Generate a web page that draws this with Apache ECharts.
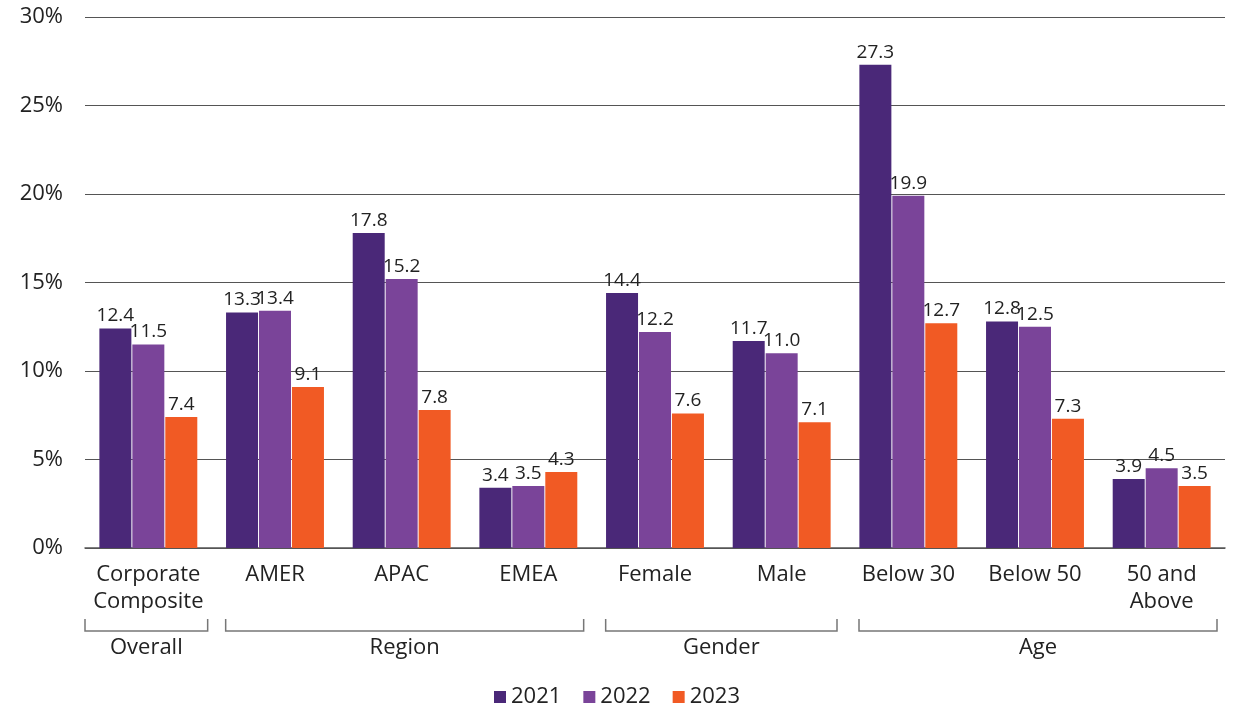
<!DOCTYPE html>
<html>
<head>
<meta charset="utf-8">
<title>Turnover rate by segment</title>
<script src="https://cdn.jsdelivr.net/npm/echarts@6/dist/echarts.min.js"></script>
<style>
  html, body { margin: 0; padding: 0; background: #ffffff; }
  #chart { width: 1234px; height: 708px; }
</style>
</head>
<body>
<div id="chart"></div>
<script>
// Segments along the x axis
const categories = ['Corporate\nComposite', 'AMER', 'APAC', 'EMEA', 'Female', 'Male', 'Below 30', 'Below 50', '50 and\nAbove'];

// Rates (%) per year
const years = ['2021', '2022', '2023'];
const values2021 = [12.4, 13.3, 17.8, 3.4, 14.4, 11.7, 27.3, 12.8, 3.9];
const values2022 = [11.5, 13.4, 15.2, 3.5, 12.2, 11.0, 19.9, 12.5, 4.5];
const values2023 = [7.4, 9.1, 7.8, 4.3, 7.6, 7.1, 12.7, 7.3, 3.5];

// Group brackets beneath the category labels (first and last category index)
const groupNames = ['Overall', 'Region', 'Gender', 'Age'];
const groupFirst = [0, 1, 4, 6];
const groupLast = [0, 3, 5, 8];

// Y axis ticks
const yMin = 0, yMax = 30, yStep = 5;

const colors = ['#4a2878', '#7a4499', '#f15a24'];
const FONT = '"Open Sans", "Noto Sans", sans-serif';
const TEXT = '#222222';

const chart = echarts.init(document.getElementById('chart'), null, { renderer: 'canvas' });

function barSeries(name, data, color) {
  return {
    name: name,
    type: 'bar',
    data: data,
    barWidth: 32,
    barGap: '3%',
    itemStyle: { color: color },
    label: {
      show: true,
      position: 'top',
      distance: 3,
      color: TEXT,
      fontFamily: FONT,
      fontSize: 19,
      formatter: p => p.value.toFixed(1)
    },
    emphasis: { disabled: true }
  };
}

const option = {
  backgroundColor: '#ffffff',
  animation: false,
  textStyle: { fontFamily: FONT },
  grid: { left: 85, right: 9, top: 17, bottom: 160, containLabel: false },
  legend: {
    bottom: -5,
    left: 'center',
    itemWidth: 12,
    itemHeight: 12,
    itemGap: 22,
    icon: 'rect',
    textStyle: { color: TEXT, fontFamily: FONT, fontSize: 22, padding: [0, 0, 0, 0] },
    data: years
  },
  xAxis: {
    type: 'category',
    data: categories,
    axisLine: { show: true, lineStyle: { color: '#555555', width: 1.5 } },
    axisTick: { show: false },
    axisLabel: {
      color: TEXT,
      fontFamily: FONT,
      fontSize: 22,
      lineHeight: 27,
      margin: 13,
      interval: 0
    }
  },
  yAxis: {
    type: 'value',
    min: yMin,
    max: yMax,
    interval: yStep,
    axisLine: { show: false },
    axisTick: { show: false },
    splitLine: { lineStyle: { color: '#555555', width: 1 } },
    axisLabel: {
      color: TEXT,
      fontFamily: FONT,
      fontSize: 22,
      margin: 22,
      formatter: v => v + '%'
    }
  },
  series: [
    barSeries(years[0], values2021, colors[0]),
    barSeries(years[1], values2022, colors[1]),
    barSeries(years[2], values2023, colors[2])
  ]
};

chart.setOption(option);

// Brackets and group titles, placed from the category axis scale
function drawGroups() {
  const p0 = chart.convertToPixel({ xAxisIndex: 0 }, 0);
  const p1 = chart.convertToPixel({ xAxisIndex: 0 }, 1);
  const band = p1 - p0;
  const inset = 8;
  const tickTop = 619, lineY = 631, titleY = 648;
  const elements = [];
  groupNames.forEach((name, i) => {
    const x1 = chart.convertToPixel({ xAxisIndex: 0 }, groupFirst[i]) - band / 2 + (i === 0 ? 0 : inset + 6);
    const x2 = chart.convertToPixel({ xAxisIndex: 0 }, groupLast[i]) + band / 2 - inset + (i === 0 ? 4 : 0);
    elements.push({
      type: 'polyline',
      silent: true,
      shape: { points: [[x1, tickTop], [x1, lineY], [x2, lineY], [x2, tickTop]] },
      style: { stroke: '#777777', lineWidth: 1.5, fill: null }
    });
    elements.push({
      type: 'text',
      silent: true,
      x: (x1 + x2) / 2,
      y: titleY,
      style: {
        text: name,
        fill: TEXT,
        font: '22px ' + FONT,
        align: 'center',
        verticalAlign: 'middle'
      }
    });
  });
  chart.setOption({ graphic: { elements: elements } });
}
drawGroups();
</script>
</body>
</html>
